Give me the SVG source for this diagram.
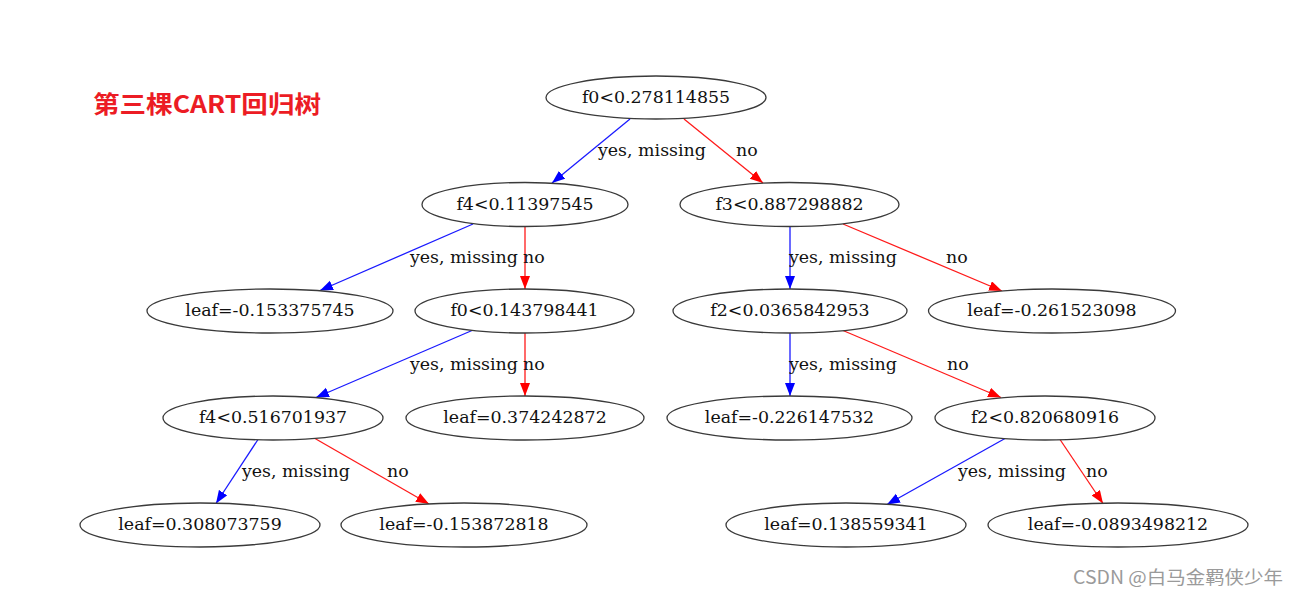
<svg xmlns="http://www.w3.org/2000/svg" width="1299" height="597" viewBox="0 0 1299 597">
<style>
.node ellipse{fill:#fff;stroke:#3a3a3a;stroke-width:1.3}
.node text{font-family:"DejaVu Serif",serif;font-size:17.4px;fill:#111;text-anchor:middle}
.edge{fill:none;stroke-width:1.3}
.yes{stroke:#1a1aff}
.no{stroke:#ff1a1a}
.lbl{font-family:"DejaVu Serif",serif;font-size:17.4px;fill:#111}
</style>
<defs>
<marker id="ab" markerUnits="userSpaceOnUse" markerWidth="14" markerHeight="11" refX="13" refY="5" orient="auto"><path d="M0,0 L13,5 L0,10 z" fill="#0000ff"/></marker>
<marker id="ar" markerUnits="userSpaceOnUse" markerWidth="14" markerHeight="11" refX="13" refY="5" orient="auto"><path d="M0,0 L13,5 L0,10 z" fill="#ff0000"/></marker>
</defs>
<rect width="1299" height="597" fill="#fff"/>
<text x="93" y="113" font-family="'Noto Sans CJK SC',sans-serif" font-weight="bold" font-size="24" fill="#ec1c24" textLength="228" lengthAdjust="spacingAndGlyphs">第三棵CART回归树</text>
<g id="connectors">
<line class="edge yes" x1="630" y1="119" x2="552" y2="183" marker-end="url(#ab)"/>
<line class="edge no" x1="684" y1="119" x2="763" y2="183" marker-end="url(#ar)"/>
<line class="edge yes" x1="473" y1="224" x2="320" y2="290.5" marker-end="url(#ab)"/>
<line class="edge no" x1="525" y1="226.5" x2="525" y2="289" marker-end="url(#ar)"/>
<line class="edge yes" x1="790" y1="226.5" x2="790" y2="289" marker-end="url(#ab)"/>
<line class="edge no" x1="843" y1="224" x2="1002" y2="291" marker-end="url(#ar)"/>
<line class="edge yes" x1="472" y1="330.5" x2="316" y2="397.5" marker-end="url(#ab)"/>
<line class="edge no" x1="525" y1="333" x2="525" y2="396" marker-end="url(#ar)"/>
<line class="edge yes" x1="790" y1="333" x2="790" y2="396" marker-end="url(#ab)"/>
<line class="edge no" x1="843" y1="330.5" x2="1001" y2="397.5" marker-end="url(#ar)"/>
<line class="edge yes" x1="258" y1="439.5" x2="216" y2="503.5" marker-end="url(#ab)"/>
<line class="edge no" x1="315" y1="438.5" x2="429" y2="504" marker-end="url(#ar)"/>
<line class="edge yes" x1="1005" y1="438.5" x2="887" y2="504.5" marker-end="url(#ab)"/>
<line class="edge no" x1="1060" y1="439.5" x2="1103" y2="503.5" marker-end="url(#ar)"/>
<text class="lbl" x="598" y="156">yes, missing</text>
<text class="lbl" x="736" y="156">no</text>
<text class="lbl" x="410" y="263">yes, missing</text>
<text class="lbl" x="523" y="263">no</text>
<text class="lbl" x="789" y="263">yes, missing</text>
<text class="lbl" x="946" y="263">no</text>
<text class="lbl" x="410" y="370">yes, missing</text>
<text class="lbl" x="523" y="370">no</text>
<text class="lbl" x="789" y="370">yes, missing</text>
<text class="lbl" x="947" y="370">no</text>
<text class="lbl" x="242" y="477">yes, missing</text>
<text class="lbl" x="387" y="477">no</text>
<text class="lbl" x="958" y="477">yes, missing</text>
<text class="lbl" x="1086" y="477">no</text>
</g>
<g id="n0" class="node"><ellipse cx="656" cy="97.5" rx="110" ry="21.5"/><text x="656" y="102.5">f0&lt;0.278114855</text></g>
<g id="n1" class="node"><ellipse cx="525" cy="204.5" rx="103" ry="22"/><text x="525" y="209.5">f4&lt;0.11397545</text></g>
<g id="n2" class="node"><ellipse cx="789.5" cy="204.5" rx="109.5" ry="22"/><text x="789.5" y="209.5">f3&lt;0.887298882</text></g>
<g id="n3" class="node"><ellipse cx="270" cy="311" rx="123" ry="22"/><text x="270" y="316">leaf=-0.153375745</text></g>
<g id="n4" class="node"><ellipse cx="524.5" cy="311" rx="109.5" ry="22"/><text x="524.5" y="316">f0&lt;0.143798441</text></g>
<g id="n5" class="node"><ellipse cx="790" cy="311" rx="117" ry="22"/><text x="790" y="316">f2&lt;0.0365842953</text></g>
<g id="n6" class="node"><ellipse cx="1052" cy="311" rx="123.5" ry="22"/><text x="1052" y="316">leaf=-0.261523098</text></g>
<g id="n7" class="node"><ellipse cx="273" cy="418" rx="110" ry="22"/><text x="273" y="423">f4&lt;0.516701937</text></g>
<g id="n8" class="node"><ellipse cx="525" cy="418" rx="119" ry="22"/><text x="525" y="423">leaf=0.374242872</text></g>
<g id="n9" class="node"><ellipse cx="789.5" cy="418" rx="122.5" ry="22"/><text x="789.5" y="423">leaf=-0.226147532</text></g>
<g id="n10" class="node"><ellipse cx="1045" cy="418" rx="110" ry="22"/><text x="1045" y="423">f2&lt;0.820680916</text></g>
<g id="n11" class="node"><ellipse cx="200" cy="525" rx="120" ry="22"/><text x="200" y="530">leaf=0.308073759</text></g>
<g id="n12" class="node"><ellipse cx="464" cy="525" rx="123" ry="22"/><text x="464" y="530">leaf=-0.153872818</text></g>
<g id="n13" class="node"><ellipse cx="846" cy="525" rx="120" ry="22"/><text x="846" y="530">leaf=0.138559341</text></g>
<g id="n14" class="node"><ellipse cx="1118" cy="525" rx="130" ry="22"/><text x="1118" y="530">leaf=-0.0893498212</text></g>
<text x="1073" y="584" font-family="'Noto Sans CJK SC',sans-serif" font-size="18" fill="#9a9a9a" textLength="210" lengthAdjust="spacingAndGlyphs">CSDN @白马金羁侠少年</text>
</svg>
